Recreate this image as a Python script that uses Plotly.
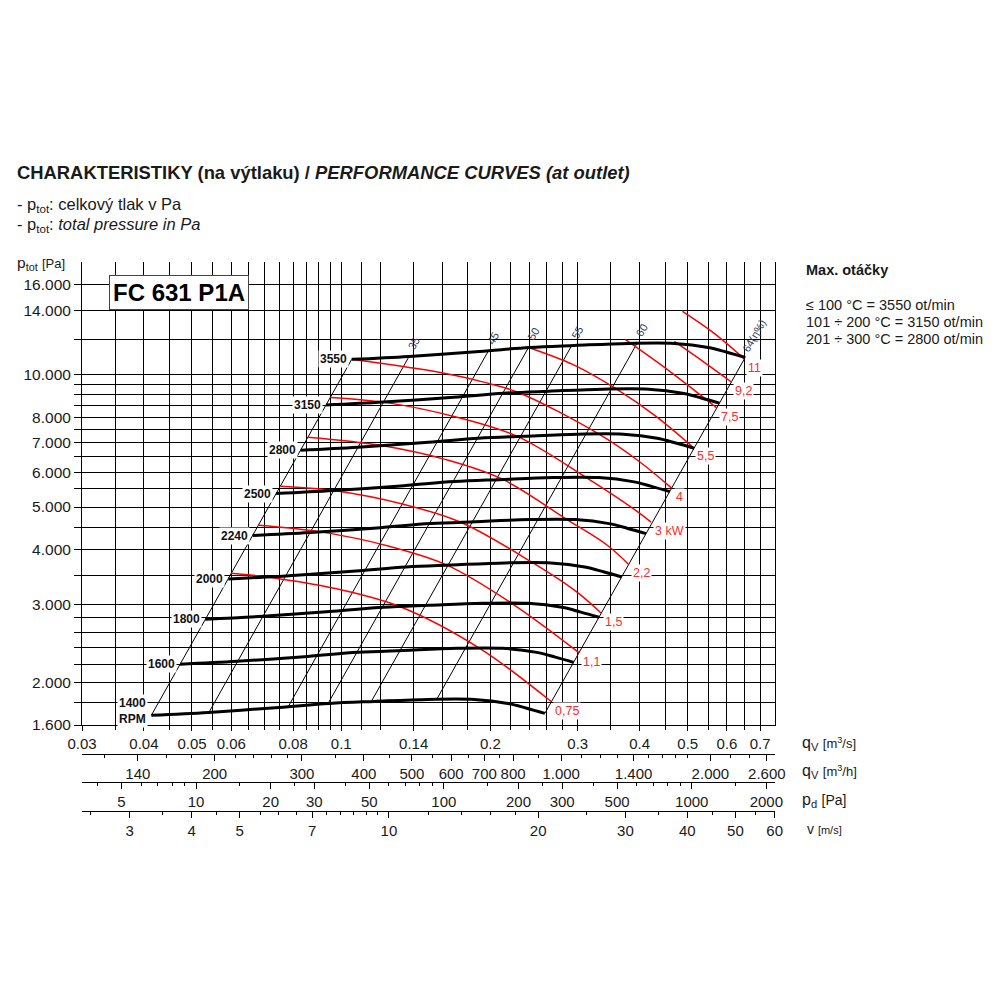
import math
import plotly.graph_objects as go

# ---------------- data ----------------
rpm_values = [1400, 1600, 1800, 2000, 2240, 2500, 2800, 3150, 3550]

q_1400 = [0.0414, 0.0540, 0.0749, 0.0946, 0.1167, 0.1499, 0.1854, 0.2169, 0.2366, 0.2575]
p_1400 = [1683, 1709, 1754, 1791, 1810, 1829, 1829, 1791, 1747, 1700]
q_1600 = [0.0473, 0.0617, 0.0856, 0.1082, 0.1334, 0.1713, 0.2118, 0.2479, 0.2704, 0.2943]
p_1600 = [2198, 2232, 2290, 2339, 2363, 2389, 2389, 2339, 2281, 2220]
q_1800 = [0.0532, 0.0695, 0.0963, 0.1217, 0.1501, 0.1927, 0.2383, 0.2789, 0.3042, 0.3311]
p_1800 = [2782, 2825, 2899, 2960, 2991, 3023, 3023, 2960, 2887, 2810]
q_2000 = [0.0592, 0.0772, 0.1070, 0.1352, 0.1668, 0.2141, 0.2648, 0.3099, 0.3380, 0.3679]
p_2000 = [3434, 3488, 3579, 3655, 3693, 3733, 3733, 3655, 3564, 3469]
q_2240 = [0.0663, 0.0864, 0.1199, 0.1514, 0.1868, 0.2398, 0.2966, 0.3470, 0.3786, 0.4120]
p_2240 = [4308, 4376, 4489, 4585, 4632, 4682, 4682, 4585, 4471, 4352]
q_2500 = [0.0739, 0.0965, 0.1338, 0.1690, 0.2085, 0.2676, 0.3310, 0.3873, 0.4225, 0.4599]
p_2500 = [5366, 5450, 5592, 5711, 5770, 5832, 5832, 5711, 5569, 5420]
q_2800 = [0.0828, 0.1081, 0.1499, 0.1893, 0.2335, 0.2997, 0.3707, 0.4338, 0.4732, 0.5150]
p_2800 = [6731, 6837, 7014, 7163, 7238, 7316, 7316, 7163, 6986, 6800]
q_3150 = [0.0932, 0.1216, 0.1686, 0.2130, 0.2626, 0.3372, 0.4170, 0.4880, 0.5324, 0.5794]
p_3150 = [8519, 8653, 8877, 9066, 9161, 9259, 9259, 9066, 8842, 8606]
q_3550 = [0.105, 0.137, 0.19, 0.24, 0.296, 0.38, 0.47, 0.55, 0.60, 0.653]
p_3550 = [10820, 10990, 11275, 11515, 11635, 11760, 11760, 11515, 11230, 10930]

curves_q = [q_1400, q_1600, q_1800, q_2000, q_2240, q_2500, q_2800, q_3150, q_3550]
curves_p = [p_1400, p_1600, p_1800, p_2000, p_2240, p_2500, p_2800, p_3150, p_3550]

# efficiency (system) lines: bottom point on 1400 rpm, top point on 3550 rpm
eff_labels = ["", "35", "45", "50", "55", "60", "64(η%)"]
eff_q = [[0.0414, 0.105], [0.0541, 0.1371], [0.0781, 0.198], [0.0941, 0.2387],
         [0.1150, 0.2917], [0.1558, 0.395], [0.2575, 0.653]]
eff_p = [[1683, 10820], [1709, 10990], [1757, 11300], [1791, 11515],
         [1809, 11630], [1829, 11760], [1700, 10930]]

# shaft power lines (kW)
power_labels = ["0,75", "1,1", "1,5", "2,2", "3 kW", "4", "5,5", "7,5", "9,2", "11"]
power_q = [
    [0.0600, 0.0708, 0.0967, 0.1312, 0.1902, 0.2655],
    [0.0681, 0.0909, 0.1244, 0.1635, 0.2207, 0.3018],
    [0.0754, 0.0965, 0.1335, 0.1742, 0.2437, 0.2977, 0.3346],
    [0.0856, 0.1213, 0.1626, 0.2118, 0.2854, 0.3437, 0.3801],
    [0.0951, 0.1216, 0.172, 0.2266, 0.3122, 0.394, 0.4216],
    [0.105, 0.1615, 0.1939, 0.2277, 0.3312, 0.401, 0.464],
    [0.2387, 0.2937, 0.3594, 0.4315, 0.512],
    [0.374, 0.46, 0.5723],
    [0.47, 0.54, 0.6124],
    [0.488, 0.5655, 0.65],
]
power_p = [
    [3538, 3469, 3270, 2972, 2389, 1807],
    [4547, 4391, 4079, 3691, 3023, 2335],
    [5573, 5450, 5073, 4618, 3733, 3216, 2870],
    [7197, 6887, 6407, 5778, 4682, 4100, 3703],
    [8870, 8653, 7988, 7235, 5832, 4901, 4620],
    [10820, 10063, 9607, 9101, 7316, 6319, 5519],
    [11515, 10523, 9259, 8030, 6840],
    [12005, 10163, 8395],
    [11880, 10650, 9613],
    [13897, 12389, 10850],
]

# axes
Q_RANGE = [0.03, 0.75]          # m3/s
P_RANGE = [1600, 18000]         # Pa
DUCT_AREA = 0.01248             # m2 (outlet)
AIR_DENSITY = 1.2

q_major = [0.03, 0.04, 0.05, 0.06, 0.08, 0.1, 0.14, 0.2, 0.3, 0.4, 0.5, 0.6, 0.7]
q_major_text = ["0.03", "0.04", "0.05", "0.06", "0.08", "0.1", "0.14", "0.2", "0.3", "0.4", "0.5", "0.6", "0.7"]
q_grid = [0.035, 0.045, 0.055, 0.065, 0.07, 0.075, 0.085, 0.09, 0.095, 0.11, 0.12, 0.16, 0.18,
          0.22, 0.24, 0.26, 0.28, 0.35, 0.45, 0.55, 0.65]
p_major = [1600, 2000, 3000, 4000, 5000, 6000, 7000, 8000, 10000, 14000, 16000]
p_major_text = ["1.600", "2.000", "3.000", "4.000", "5.000", "6.000", "7.000", "8.000", "10.000", "14.000", "16.000"]
p_grid = [1800, 2200, 2400, 2600, 2800, 3500, 4500, 5500, 6500, 7500, 8500, 9000, 9500, 12000]

qh_major = [140, 200, 300, 400, 500, 600, 700, 800, 1000, 1400, 2000, 2600]
qh_major_text = ["140", "200", "300", "400", "500", "600", "700", "800", "1.000", "1.400", "2.000", "2.600"]
qh_minor = [120, 160, 180, 220, 240, 260, 280, 350, 450, 550, 650, 750, 900, 1100, 1200, 1300,
            1500, 1600, 1700, 1800, 2200, 2400]
pd_major = [5, 10, 20, 30, 50, 100, 200, 300, 500, 1000, 2000]
pd_minor = [4, 6, 7, 8, 9, 15, 25, 40, 60, 70, 80, 90, 150, 250, 400, 600, 700, 800, 900, 1500]
v_major = [3, 4, 5, 7, 10, 20, 30, 40, 50, 60]
v_minor = [2.5, 3.5, 4.5, 5.5, 6, 6.5, 7.5, 8, 8.5, 9, 9.5, 12, 14, 16, 18, 25, 35, 45, 55]

# ---------------- layout helpers ----------------
FONT = "Liberation Sans, Arial, sans-serif"
TXT = "#1a1a1a"
PAGE_OFFSET = 8               # default body margin of the html page
FIG_W = FIG_H = 1000 - PAGE_OFFSET
# plot area in screen pixels
PX_L, PX_R, PX_T, PX_B = 82, 775, 262, 811
MAIN_BOTTOM = 725


def px(x):
    return (x - PX_L) / (PX_R - PX_L)


def py(y):
    return (PX_B - y) / (PX_B - PX_T)


lg = math.log10

fig = go.Figure()

# efficiency lines
for qs, ps in zip(eff_q, eff_p):
    fig.add_trace(go.Scatter(x=qs, y=ps, mode="lines", line=dict(color="black", width=1),
                             hoverinfo="skip", showlegend=False))

# power lines
for qs, ps in zip(power_q, power_p):
    fig.add_trace(go.Scatter(x=qs, y=ps, mode="lines", line=dict(color="#ff0000", width=1.5, shape="spline"),
                             hoverinfo="skip", showlegend=False))

# fan curves
for qs, ps in zip(curves_q, curves_p):
    fig.add_trace(go.Scatter(x=qs, y=ps, mode="lines", line=dict(color="black", width=3, shape="spline"),
                             hoverinfo="skip", showlegend=False))

# secondary scales (derived from the volume flow scale)
qh_range = [Q_RANGE[0] * 3600, Q_RANGE[1] * 3600]
v_range = [Q_RANGE[0] / DUCT_AREA, Q_RANGE[1] / DUCT_AREA]
pd_range = [0.5 * AIR_DENSITY * v_range[0] ** 2, 0.5 * AIR_DENSITY * v_range[1] ** 2]
for ax, val in (("x2", 300), ("x3", 50), ("x4", 10)):
    fig.add_trace(go.Scatter(x=[val], y=[3000], xaxis=ax, yaxis="y", mode="markers",
                             marker=dict(opacity=0), hoverinfo="skip", showlegend=False))

ann = []
# rpm labels
for rpm, qs, ps in zip(rpm_values, curves_q, curves_p):
    text = f"<b>{rpm}</b>" if rpm != 1400 else "<b>1400<br>RPM</b>"
    ann.append(dict(x=lg(qs[0]), y=lg(ps[0]), xref="x", yref="y", text=text, showarrow=False,
                    xanchor="right", yanchor="middle", xshift=-3, yshift=(4 if rpm == 1400 else 0),
                    font=dict(family=FONT, size=12, color="#111"), bgcolor="white", borderpad=1,
                    align="right"))

# efficiency labels
for lab, qs, ps in zip(eff_labels, eff_q, eff_p):
    if not lab:
        continue
    big = lab.startswith("64")
    ann.append(dict(x=lg(qs[1]), y=lg(ps[1]), xref="x", yref="y", text=lab, showarrow=False,
                    textangle=-60, xanchor="center", yanchor="middle",
                    xshift=(9 if big else 5), yshift=(21 if big else 13),
                    font=dict(family=FONT, size=11, color="#34405a")))

# power labels
for lab, qs, ps in zip(power_labels, power_q, power_p):
    ann.append(dict(x=lg(qs[-1]), y=lg(ps[-1]), xref="x", yref="y", text=lab, showarrow=False,
                    xanchor="left", yanchor="middle", xshift=2, yshift=-9,
                    font=dict(family=FONT, size=12.5, color="#ff2a2a"), bgcolor="white", borderpad=1))


def txt(x, y, text, size, anchor="left", **kw):
    d = dict(x=px(x), y=py(y), xref="paper", yref="paper", xanchor=anchor, yanchor="middle",
             showarrow=False, text=text, font=dict(family=FONT, size=size, color=kw.pop("color", TXT)))
    d.update(kw)
    return d


ann += [
    txt(15, 172, "<b>CHARAKTERISTIKY (na výtlaku) / <i>PERFORMANCE CURVES (at outlet)</i></b>", 18.4),
    txt(15, 205, "- p<sub>tot</sub>: celkový tlak v Pa", 16.5),
    txt(15, 225, "- p<sub>tot</sub>: <i>total pressure in Pa</i>", 16.5),
    txt(15, 263, "p<sub>tot</sub> <span style='font-size:13px'>[Pa]</span>", 15.5),
    txt(179, 292, "<b>FC 631 P1A</b>", 24, anchor="center", color="#000",
        bgcolor="white", bordercolor="#444", borderwidth=1, borderpad=3),
    txt(804, 270, "<b>Max. otáčky</b>", 14.5),
    txt(804, 305, "≤ 100 °C = 3550 ot/min", 14.5),
    txt(804, 322, "101 ÷ 200 °C = 3150 ot/min", 14.5),
    txt(804, 339, "201 ÷ 300 °C = 2800 ot/min", 14.5),
    txt(800, 743, "q<sub>V</sub> <span style='font-size:13px'>[m<sup>3</sup>/s]</span>", 16),
    txt(800, 771, "q<sub>V</sub> <span style='font-size:13px'>[m<sup>3</sup>/h]</span>", 16),
    txt(800, 800, "p<sub>d</sub> <span style='font-size:14px'>[Pa]</span>", 16),
    txt(805, 829, "v <span style='font-size:11px'>[m/s]</span>", 14),
]

tickfont = dict(family=FONT, size=15, color=TXT)
dom_bottom = py(MAIN_BOTTOM)


def sec_axis(rng, major, major_text, minor, pos):
    return dict(type="log", range=[lg(rng[0]), lg(rng[1])], anchor="free", position=pos, overlaying="x",
                side="bottom", showline=True, linecolor="black", linewidth=1, showgrid=False, zeroline=False,
                tickmode="array", tickvals=major, ticktext=major_text, ticks="outside", ticklen=6,
                tickcolor="black", tickwidth=1, tickfont=tickfont,
                minor=dict(tickmode="array", tickvals=minor, ticks="outside", ticklen=3, tickcolor="black",
                           showgrid=False),
                fixedrange=True)


fig.update_layout(
    width=FIG_W, height=FIG_H,
    margin=dict(l=PX_L - PAGE_OFFSET, r=FIG_W - (PX_R - PAGE_OFFSET),
                t=PX_T - PAGE_OFFSET, b=FIG_H - (PX_B - PAGE_OFFSET)),
    paper_bgcolor="white", plot_bgcolor="white", showlegend=False,
    font=dict(family=FONT, size=14, color=TXT),
    xaxis=dict(type="log", range=[lg(Q_RANGE[0]), lg(Q_RANGE[1])], domain=[0, 1], anchor="y",
               tickmode="array", tickvals=q_major, ticktext=q_major_text, ticks="outside", ticklen=5,
               tickcolor="black", showgrid=True, gridcolor="black", gridwidth=1, zeroline=False,
               showline=True, linecolor="black", linewidth=1, tickfont=tickfont,
               minor=dict(tickmode="array", tickvals=q_grid, ticks="outside", ticklen=4, tickcolor="black",
                          showgrid=True, gridcolor="black", gridwidth=1),
               fixedrange=True),
    yaxis=dict(type="log", range=[lg(P_RANGE[0]), lg(P_RANGE[1])], domain=[dom_bottom, 1], anchor="x",
               tickmode="array", tickvals=p_major, ticktext=p_major_text, ticks="outside", ticklen=7,
               tickcolor="black", showgrid=True, gridcolor="black", gridwidth=1, zeroline=False,
               showline=True, mirror=True, linecolor="black", linewidth=1,
               tickfont=dict(family=FONT, size=15.5, color=TXT),
               minor=dict(tickmode="array", tickvals=p_grid, ticks="outside", ticklen=7, tickcolor="black",
                          showgrid=True, gridcolor="black", gridwidth=1),
               fixedrange=True),
    xaxis2=sec_axis(qh_range, qh_major, qh_major_text, qh_minor, py(754)),
    xaxis3=sec_axis(pd_range, pd_major, [str(v) for v in pd_major], pd_minor, py(782)),
    xaxis4=sec_axis(v_range, v_major, [str(v) for v in v_major], v_minor, py(811)),
    annotations=ann,
)

fig.write_html("out.html")
